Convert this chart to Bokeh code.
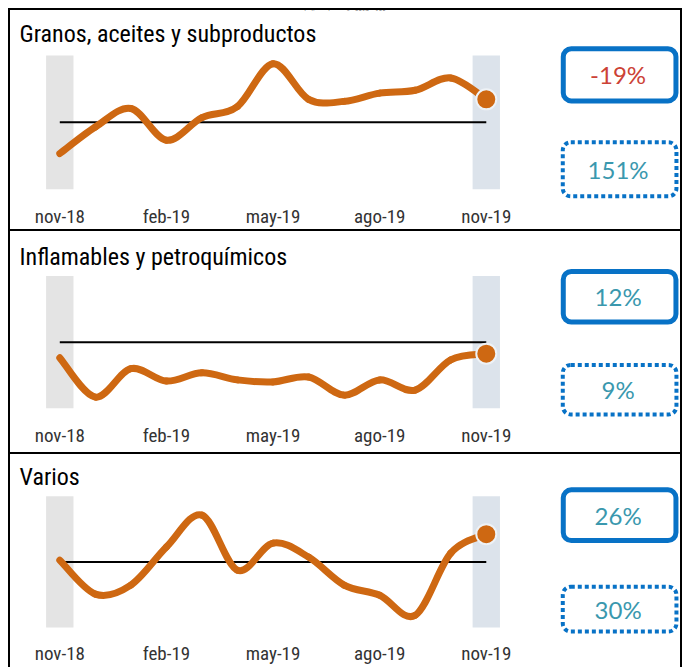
import numpy as np
from bokeh.plotting import figure
from bokeh.layouts import column
from bokeh.models import Range1d, FixedTicker, BoxAnnotation, Label, Div
from bokeh.embed import file_html
from bokeh.resources import INLINE

# ---------------- data ----------------
months = ["nov-18", "dic-18", "ene-19", "feb-19", "mar-19", "abr-19", "may-19",
          "jun-19", "jul-19", "ago-19", "sep-19", "oct-19", "nov-19"]
tick_idx = [0, 3, 6, 9, 12]
subtitle = "Índice – base año 2017 = 100"
titles = ["Granos, aceites y subproductos", "Inflamables y petroquímicos", "Varios"]
granos = [86.0, 97.9, 106.2, 92.0, 102.1, 107.1, 126.3, 110.3, 109.4, 113.1, 114.4, 119.9, 110.3]
inflamables = [92.9, 75.1, 88.0, 82.4, 86.1, 82.9, 82.0, 84.2, 76.0, 82.9, 78.3, 92.0, 94.8]
varios = [100.8, 85.3, 89.4, 106.8, 121.4, 96.2, 108.6, 102.2, 89.4, 84.8, 75.6, 104.0, 112.7]
base = 100
var_solid = ["-19%", "12%", "26%"]
var_dotted = ["151%", "9%", "30%"]
axis_lo, axis_hi = 70, 130
series = [granos, inflamables, varios]

# ---------------- style / layout ----------------
ORANGE = "#CE6812"
BLUE = "#0872C6"
TEAL = "#3A98AE"
RED = "#CC4236"
NARROW = "'Liberation Sans Narrow', 'Roboto Condensed', 'DejaVu Sans Condensed', sans-serif"
BOXFONT = "Lato, sans-serif"
BORDER = "2px solid black"

W_EL = 674          # element width incl. 2px borders -> canvas 670
W = 670
PX_PER_MONTH = 35.33
X0_PX = 49.0        # canvas pixel of first month
panels = [
    dict(h=223, canvas=219, band=(44, 175), fbot=188, tbase=23, solid=(37.5, 88.5), dotted=(129, 182),
         solid_col=RED, styles={"border": BORDER, "margin-left": "8px", "margin-top": "-10px"}),
    dict(h=223, canvas=221, band=(44, 175), fbot=188, tbase=25.5, solid=(39.5, 89.5), dotted=(132, 181),
         solid_col=TEAL, styles={"border-left": BORDER, "border-right": BORDER,
                                 "border-bottom": BORDER, "margin-left": "8px"}),
    dict(h=213, canvas=213, band=(42, 174), fbot=186, tbase=22.5, solid=(35.5, 86.5), dotted=(133, 178),
         solid_col=TEAL, styles={"border-left": BORDER, "border-right": BORDER, "margin-left": "8px"}),
]


def mx(px):
    return (px - X0_PX) / PX_PER_MONTH


def bezier_segments(xs, ys):
    xs = np.asarray(xs, float)
    ys = np.asarray(ys, float)
    n = len(xs)
    xp = np.concatenate([[xs[0]], xs, [xs[-1]]])
    yp = np.concatenate([[ys[0]], ys, [ys[-1]]])
    d = dict(x0=[], y0=[], x1=[], y1=[], cx0=[], cy0=[], cx1=[], cy1=[])
    for i in range(n - 1):
        p0x, p0y = xp[i], yp[i]
        p1x, p1y = xp[i + 1], yp[i + 1]
        p2x, p2y = xp[i + 2], yp[i + 2]
        p3x, p3y = xp[i + 3], yp[i + 3]
        d["x0"].append(p1x); d["y0"].append(p1y)
        d["x1"].append(p2x); d["y1"].append(p2y)
        d["cx0"].append(p1x + (p2x - p0x) / 6); d["cy0"].append(p1y + (p2y - p0y) / 6)
        d["cx1"].append(p2x - (p3x - p1x) / 6); d["cy1"].append(p2y - (p3y - p1y) / 6)
    return d


# subtitle strip above the frame
top = Div(text=('<div style="font-size:7px;line-height:8px;height:8px;overflow:hidden;'
                'width:674px;text-align:center;margin:0;padding:0;'
                'font-family:Roboto Condensed, sans-serif;">' + subtitle + '</div>'),
          width=W_EL, height=8,
          styles={"margin-left": "8px", "overflow": "hidden", "padding": "0px"})

figs = [top]
for k, cfg in enumerate(panels):
    bt, bb = cfg["band"]
    scale = (axis_hi - axis_lo) / (bb - bt)

    def vy(py, bt=bt, scale=scale):
        return axis_hi - (py - bt) * scale

    p = figure(width=W_EL, height=cfg["h"], output_backend="svg", toolbar_location=None, title=None,
               x_range=Range1d(mx(0), mx(W)), y_range=Range1d(vy(cfg["fbot"]), vy(0)),
               y_axis_location=None, min_border_left=0, min_border_right=0,
               min_border_top=0, min_border_bottom=cfg["canvas"] - cfg["fbot"],
               outline_line_color=None, background_fill_color="white",
               border_fill_color="white", styles=cfg["styles"])
    p.xgrid.grid_line_color = None
    p.ygrid.grid_line_color = None

    xs = list(range(len(months)))
    ys = series[k]

    # highlight bands at first and last month
    p.vbar(x=[xs[0], xs[-1]], width=0.77, bottom=axis_lo, top=axis_hi,
           fill_color=["#E4E4E4", "#DCE3EB"], line_color=None)
    # base line
    p.line(x=[xs[0], xs[-1]], y=[base, base], line_color="black", line_width=2)
    # smoothed series
    segs = bezier_segments(xs, ys)
    p.bezier(x0=segs["x0"], y0=segs["y0"], x1=segs["x1"], y1=segs["y1"],
             cx0=segs["cx0"], cy0=segs["cy0"], cx1=segs["cx1"], cy1=segs["cy1"],
             line_color=ORANGE, line_width=7, line_cap="round")
    # last point marker
    p.scatter(x=[xs[-1]], y=[ys[-1]], size=20, fill_color=ORANGE,
              line_color="#EEF2F6", line_width=2)

    # title
    p.add_layout(Label(x=mx(9), y=vy(cfg["tbase"]), text=titles[k],
                       text_font=NARROW, text_font_size="24px", text_color="black",
                       text_baseline="alphabetic", text_align="left"))

    # boxes
    s0, s1 = cfg["solid"]
    d0, d1 = cfg["dotted"]
    p.add_layout(BoxAnnotation(left=mx(549.5), right=mx(661.5), top=vy(s0), bottom=vy(s1),
                               fill_color=None, fill_alpha=0, line_color=BLUE, line_alpha=1,
                               line_width=5, border_radius=8))
    p.add_layout(BoxAnnotation(left=mx(549), right=mx(662), top=vy(d0), bottom=vy(d1),
                               fill_color=None, fill_alpha=0, line_color=BLUE, line_alpha=1,
                               line_width=4, line_dash="4 3", border_radius=8))
    p.add_layout(Label(x=mx(604), y=vy((s0 + s1) / 2), text=var_solid[k],
                       text_font=BOXFONT, text_font_size="24px", text_color=cfg["solid_col"],
                       text_align="center", text_baseline="middle"))
    p.add_layout(Label(x=mx(604), y=vy((d0 + d1) / 2), text=var_dotted[k],
                       text_font=BOXFONT, text_font_size="24px", text_color=TEAL,
                       text_align="center", text_baseline="middle"))

    # x axis
    ax = p.xaxis[0]
    ax.ticker = FixedTicker(ticks=tick_idx)
    ax.major_label_overrides = {i: months[i] for i in tick_idx}
    ax.axis_line_color = None
    ax.major_tick_line_color = None
    ax.minor_tick_line_color = None
    ax.major_tick_out = 0
    ax.major_tick_in = 0
    ax.minor_tick_out = 0
    ax.minor_tick_in = 0
    ax.major_label_standoff = 2
    ax.major_label_text_font = NARROW
    ax.major_label_text_font_size = "19px"
    ax.major_label_text_color = "#333333"
    figs.append(p)

layout = column(*figs, spacing=0)
open("out.html", "w").write(file_html(layout, INLINE))
